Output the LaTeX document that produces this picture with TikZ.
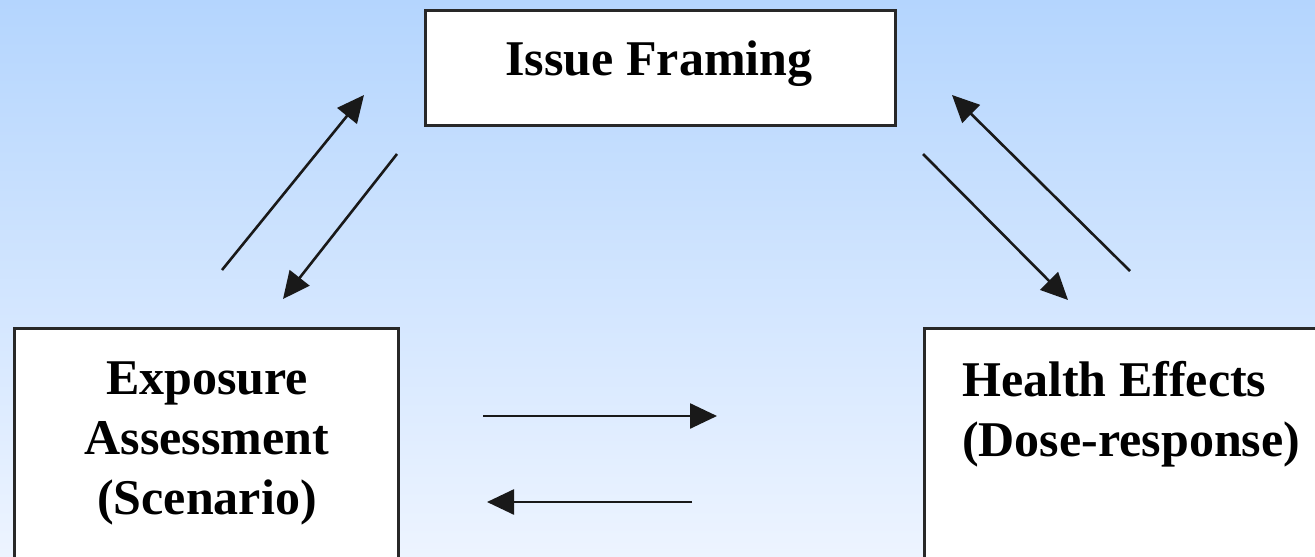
\documentclass[tikz,border=0pt]{standalone}
\usepackage{fontspec}
\setmainfont{Liberation Serif}
\usetikzlibrary{arrows.meta}
\definecolor{skytop}{RGB}{180,213,254}
\definecolor{skybottom}{RGB}{237,244,255}
\definecolor{edge}{RGB}{40,40,40}
\definecolor{ink}{RGB}{25,25,25}
\tikzset{
  box/.style={draw=edge, line width=3pt, fill=white, inner sep=0pt},
  label/.style={inner sep=0pt, font=\bfseries\fontsize{50}{60}\selectfont, text=black},
  flow/.style={draw=ink, line width=2.6pt, -{Triangle[length=27pt,width=25pt]}}
}
\begin{document}
\begin{tikzpicture}[x=1pt,y=-1pt]
\useasboundingbox (0,0) rectangle (1315,557);
\clip (0,0) rectangle (1315,557);
\shade[top color=skytop, bottom color=skybottom] (0,0) rectangle (1315,557);

% boxes
\node[box, minimum width=470pt, minimum height=115pt] (issue) at (660,67.5) {};
\node[box, minimum width=384pt, minimum height=300pt, anchor=north west] (expo) at (13,327) {};
\node[box, minimum width=440pt, minimum height=300pt, anchor=north west] (health) at (923,327) {};

% box texts
\node[label, anchor=base] (issuetxt) at (659,75) {Issue Framing};
\node[label, anchor=north, align=center] (expotxt) at (207,362) {Exposure\\Assessment\\(Scenario)};
\node[label, anchor=north west, align=left] (healthtxt) at (962,361) {Health Effects\\(Dose-response)};

% arrow end points
\coordinate (a1s) at (222,270);  \coordinate (a1e) at (364,95);
\coordinate (a2s) at (397,154);  \coordinate (a2e) at (283,299);
\coordinate (a3s) at (1130,271); \coordinate (a3e) at (952,95);
\coordinate (a4s) at (923,154);  \coordinate (a4e) at (1068,300);
\coordinate (a5s) at (483,416);  \coordinate (a5e) at (717,416);
\coordinate (a6s) at (692,502);  \coordinate (a6e) at (487,502);

\draw[flow] (a1s) -- (a1e);
\draw[flow] (a2s) -- (a2e);
\draw[flow] (a3s) -- (a3e);
\draw[flow] (a4s) -- (a4e);
\draw[flow] (a5s) -- (a5e);
\draw[flow] (a6s) -- (a6e);
\end{tikzpicture}
\end{document}
